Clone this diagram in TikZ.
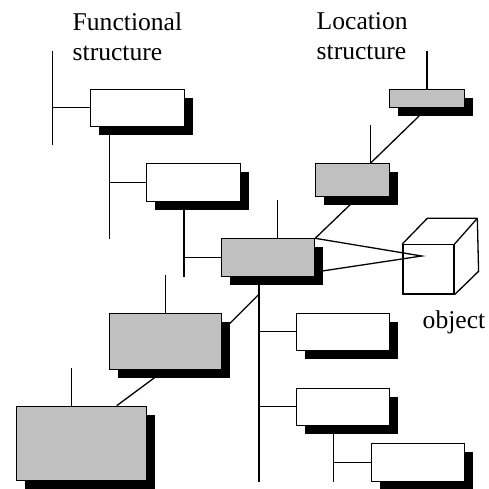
\documentclass[tikz,border=0pt]{standalone}
\usepackage{fontspec}
\setmainfont{Liberation Serif}
\usetikzlibrary{shadows,backgrounds,calc}
\definecolor{boxgrey}{HTML}{C0C0C0}
\begin{document}
\begin{tikzpicture}[x=1pt,y=-1pt,
  box/.style={draw, line width=0.9pt, inner sep=0pt, anchor=north west,
    drop shadow={shadow xshift=8.5pt, shadow yshift=-8.5pt, fill=black, opacity=1}},
  plainbox/.style={box, fill=white},
  greybox/.style={box, fill=boxgrey},
  link/.style={line width=1.3pt},
  lbl/.style={inner sep=0pt, align=left, font=\fontsize{25.6}{30}\selectfont}]
\useasboundingbox (0,0) rectangle (488,489);

% headings
\node[lbl, anchor=north west] (funclab) at (72.5,12.5) {Functional\\structure};
\node[lbl, anchor=north west] (loclab) at (316.5,12.5) {Location\\structure};

% functional structure boxes
\node[plainbox, minimum width=93.7pt, minimum height=37.3pt] (F1) at (90.3,88.7) {};
\node[plainbox, minimum width=94pt, minimum height=38pt] (F2) at (146.3,163) {};
\node[greybox, minimum width=93.3pt, minimum height=37.4pt] (C) at (221,238.3) {};
\node[greybox, minimum width=112pt, minimum height=56pt] (F3) at (109,312.7) {};
\node[greybox, minimum width=130.6pt, minimum height=74.6pt] (F4) at (15.7,405.7) {};
\node[plainbox, minimum width=93.6pt, minimum height=37.3pt] (F5) at (295.7,312.7) {};
\node[plainbox, minimum width=93.6pt, minimum height=37.3pt] (F6) at (295.7,387.7) {};
\node[plainbox, minimum width=93.6pt, minimum height=37.4pt] (F7) at (370.7,443.3) {};

% location structure boxes
\node[greybox, minimum width=74.7pt, minimum height=18.6pt] (L1) at (389.3,88.7) {};
\node[greybox, minimum width=73.7pt, minimum height=32.7pt] (L2) at (315,163) {};

% the object
\node[draw, line width=1.3pt, inner sep=0pt, anchor=north west,
  minimum width=51pt, minimum height=49.3pt] (cube) at (402.3,244) {};
\draw[link, line join=round] (cube.north west) -- ++(25,-25.7) -- ++(50,0) coordinate (cubeback)
  -- ($(cube.south east)+(24,-23.3)$) -- (cube.south east);
\draw[link] (cube.north east) -- (cubeback);
\node[lbl, anchor=base west] (objlab) at (422.5,328.3) {object};

% connectors, drawn behind the boxes and their shadows
\begin{scope}[on background layer]
  \coordinate (f0top) at (52.7,50.7);
  \coordinate (f0bot) at (52.7,145.3);
  \draw[link] (f0top) -- (f0bot);
  \draw[link] (F1.west) -- (F1.west -| f0top);

  \coordinate (f1bot) at (109.3,238.7);
  \draw[link] (F1.south -| f1bot) -- (f1bot);
  \draw[link] (F2.west) -- (F2.west -| f1bot);

  \coordinate (f2bot) at (184,276.7);
  \draw[link] (F2.south -| f2bot) -- (f2bot);
  \draw[link] (C.west) -- (C.west -| f2bot);

  \coordinate (ctop) at (277.3,200);
  \draw[link] (ctop) -- (ctop |- C.north);

  \coordinate (cbot) at (259,481.7);
  \draw[link] (C.south -| cbot) -- (cbot);
  \draw[link] (F5.west) -- (F5.west -| cbot);
  \draw[link] (F6.west) -- (F6.west -| cbot);

  \coordinate (f6bot) at (333.3,481.7);
  \draw[link] (F6.south -| f6bot) -- (f6bot);
  \draw[link] (F7.west) -- (F7.west -| f6bot);

  % branch down to the large boxes
  \coordinate (joint) at (259,294.3);
  \coordinate (f3in) at (221,332.3);
  \draw[link] (joint) -- (f3in);
  \coordinate (f3top) at (165.3,275);
  \draw[link] (f3top) -- (f3top |- F3.north);
  \coordinate (f4in) at (116.7,405.7);
  \draw[link] (F3.south) -- (f4in);
  \coordinate (f4top) at (71.7,368.3);
  \draw[link] (f4top) -- (f4top |- F4.north);

  % location chain
  \coordinate (l2in) at (359.5,195.7);
  \draw[link] (C.north east) -- (l2in);
  \coordinate (l2top) at (370.7,125.3);
  \draw[link] (l2top) -- (l2top |- L2.north);
  \draw[link] (l2top |- L2.north) -- (L1.south);
  \coordinate (l1top) at (427,50.7);
  \draw[link] (l1top) -- (l1top |- L1.north);

  % the box points at the object
  \coordinate (apex) at (421.7,256);
  \coordinate (cin) at (314.3,272.2);
  \draw[link, line join=miter] (C.north east) -- (apex) -- (cin);
\end{scope}
\end{tikzpicture}
\end{document}
